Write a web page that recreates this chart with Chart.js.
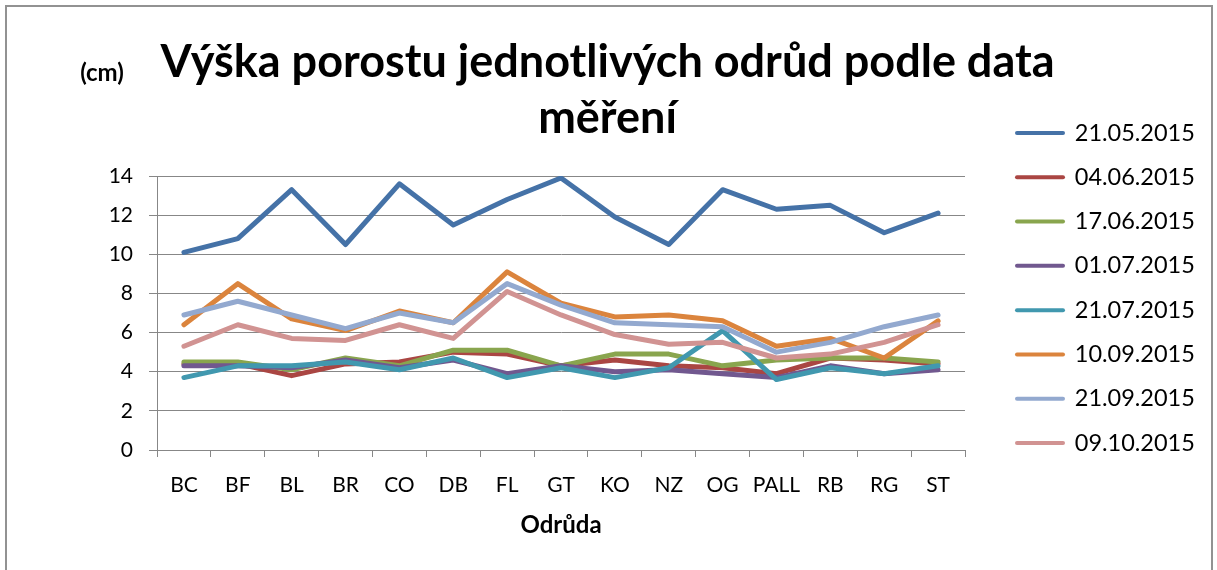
<!DOCTYPE html>
<html>
<head>
<meta charset="utf-8">
<script src="https://cdn.jsdelivr.net/npm/chart.js@4.4.1/dist/chart.umd.min.js"></script>
<style>
html,body{margin:0;padding:0;background:#fff;width:1217px;height:570px;overflow:hidden;}
#frame{position:absolute;left:5px;top:5px;width:1204px;height:600px;border:2px solid #929292;}
#wrap{position:absolute;left:0;top:0;width:1217px;height:570px;}
</style>
</head>
<body>
<div id="frame"></div>
<div id="wrap"><canvas id="c" width="1217" height="570"></canvas></div>
<script>
// ---- data ----
const categories = ['BC','BF','BL','BR','CO','DB','FL','GT','KO','NZ','OG','PALL','RB','RG','ST'];
const seriesNames = ['21.05.2015','04.06.2015','17.06.2015','01.07.2015','21.07.2015','10.09.2015','21.09.2015','09.10.2015'];
const v21_05 = [10.1, 10.8, 13.3, 10.5, 13.6, 11.5, 12.8, 13.9, 11.9, 10.5, 13.3, 12.3, 12.5, 11.1, 12.1];
const v04_06 = [4.4, 4.4, 3.8, 4.4, 4.5, 5.0, 4.9, 4.3, 4.6, 4.3, 4.2, 3.9, 4.7, 4.6, 4.4];
const v17_06 = [4.5, 4.5, 4.1, 4.7, 4.3, 5.1, 5.1, 4.3, 4.9, 4.9, 4.3, 4.6, 4.7, 4.7, 4.5];
const v01_07 = [4.3, 4.3, 4.2, 4.6, 4.2, 4.6, 3.9, 4.3, 4.0, 4.1, 3.9, 3.7, 4.3, 3.9, 4.1];
const v21_07 = [3.7, 4.3, 4.3, 4.5, 4.1, 4.7, 3.7, 4.2, 3.7, 4.2, 6.1, 3.6, 4.2, 3.9, 4.3];
const v10_09 = [6.4, 8.5, 6.7, 6.1, 7.1, 6.5, 9.1, 7.5, 6.8, 6.9, 6.6, 5.3, 5.7, 4.7, 6.6];
const v21_09 = [6.9, 7.6, 6.9, 6.2, 7.0, 6.5, 8.5, 7.4, 6.5, 6.4, 6.3, 5.0, 5.5, 6.3, 6.9];
const v09_10 = [5.3, 6.4, 5.7, 5.6, 6.4, 5.7, 8.1, 6.9, 5.9, 5.4, 5.5, 4.7, 4.9, 5.5, 6.4];
const seriesValues = [v21_05, v04_06, v17_06, v01_07, v21_07, v10_09, v21_09, v09_10];
const seriesColors = ['#4572A7','#AA4643','#89A54E','#71588F','#4198AF','#DB843D','#93A9CF','#D19392'];
const yTicksMin = 0, yTicksMax = 14, yTicksStep = 2;
const titleLines = ['Výška porostu jednotlivých odrůd podle data', 'měření'];
const xAxisTitle = 'Odrůda';
const yAxisUnit = '(cm)';

// ---- layout targets ----
const PLOT_LEFT = 157;
const PLOT_RIGHT = 965;
const TITLE_CENTER = 607.5;
const FONT = 'Lato';
const GRID = '#878787';
let yAxisWidth = PLOT_LEFT;

const datasets = seriesNames.map((name, i) => ({
  label: name,
  data: seriesValues[i],
  borderColor: seriesColors[i],
  backgroundColor: seriesColors[i],
  pointBackgroundColor: seriesColors[i],
  pointBorderColor: seriesColors[i],
  borderWidth: 5,
  pointRadius: 0,
  pointHoverRadius: 0,
  tension: 0,
  fill: false,
  borderJoinStyle: 'round',
  borderCapStyle: 'round',
  order: -i
}));

const unitPlugin = {
  id: 'unitLabel',
  afterDraw(chart) {
    const ctx = chart.ctx;
    ctx.save();
    ctx.font = 'bold 24px ' + FONT;
    ctx.fillStyle = '#000';
    ctx.textAlign = 'center';
    ctx.textBaseline = 'middle';
    ctx.fillText(yAxisUnit, 102, 73);
    ctx.restore();
  }
};

const config = {
  type: 'line',
  data: { labels: categories, datasets },
  options: {
    responsive: false,
    devicePixelRatio: 1,
    animation: false,
    events: [],
    layout: { padding: { top: 6, left: 0, right: 0, bottom: 0 } },
    scales: {
      x: {
        type: 'category',
        offset: true,
        grid: { display: true, drawOnChartArea: false, drawTicks: true, tickLength: 7, offset: true, color: GRID, lineWidth: 1 },
        border: { display: true, color: GRID, width: 1 },
        ticks: { color: '#000', font: { family: FONT, size: 21 }, padding: 16, maxRotation: 0, autoSkip: false },
        title: { display: true, text: xAxisTitle, color: '#000', font: { family: FONT, size: 24, weight: 'bold' }, padding: { top: 0, bottom: 30.6 } },
        afterFit(s) { s.height = 120; }
      },
      y: {
        type: 'linear',
        position: 'left',
        min: yTicksMin, max: yTicksMax,
        ticks: { stepSize: yTicksStep, color: '#000', font: { family: FONT, size: 21 }, padding: 16 },
        grid: { color: GRID, lineWidth: 1, tickLength: 8, drawTicks: true },
        border: { display: true, color: GRID, width: 1 },
        afterFit(s) { s.width = yAxisWidth; }
      },
      yR: {
        type: 'linear',
        position: 'right',
        display: true,
        grid: { display: false },
        border: { display: false },
        ticks: { display: false },
        afterFit(s) { s.width = 31.2; }
      }
    },
    plugins: {
      tooltip: { enabled: false },
      title: {
        display: true,
        fullSize: true,
        text: titleLines,
        color: '#000',
        font: { family: FONT, size: 45, weight: 'bold', lineHeight: 56 / 45 },
        padding: { top: 28.5, bottom: 29.5 }
      },
      legend: {
        display: true,
        position: 'right',
        align: 'center',
        fullSize: true,
        maxWidth: 600,
        labels: {
          usePointStyle: true,
          pointStyle: 'line',
          pointStyleWidth: 46,
          padding: 20.8,
          color: '#000',
          font: { family: FONT, size: 23.5 },
          sort: (a, b) => a.datasetIndex - b.datasetIndex,
          generateLabels: (chart) => Chart.defaults.plugins.legend.labels.generateLabels(chart)
            .map(l => Object.assign(l, { lineCap: 'round', lineWidth: 4, pointStyle: 'line' }))
        }
      }
    }
  },
  plugins: [unitPlugin]
};

const chart = new Chart(document.getElementById('c'), config);
// keep the plot area where the reference has it, and centre the title on the same point
const pad = chart.config.options.layout.padding;
for (let k = 0; k < 6; k++) {
  const d = chart.chartArea.right - PLOT_RIGHT;
  pad.right += d;
  pad.left = Math.max(0, 2 * TITLE_CENTER - chart.width + pad.right);
  yAxisWidth = PLOT_LEFT - pad.left;
  chart.update();
  if (Math.abs(chart.chartArea.right - PLOT_RIGHT) < 0.1 && Math.abs(chart.chartArea.left - PLOT_LEFT) < 0.1) break;
}
</script>
</body>
</html>
